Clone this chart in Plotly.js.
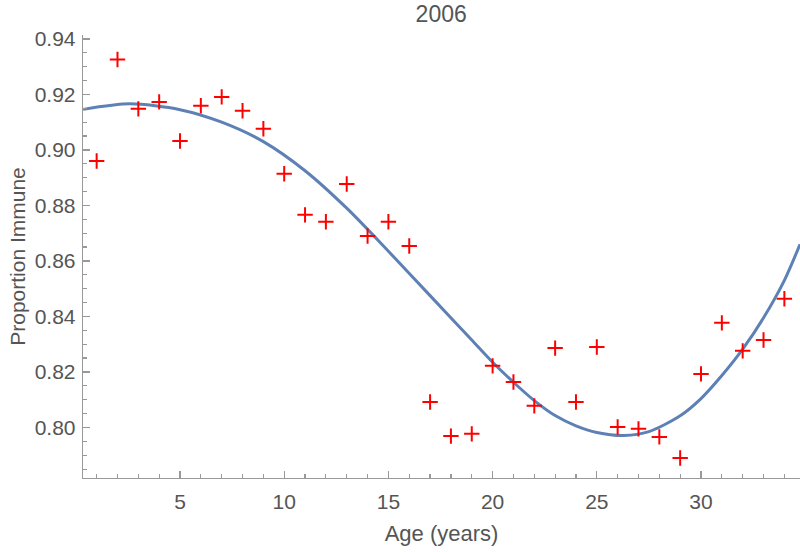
<!DOCTYPE html>
<html>
<head>
<meta charset="utf-8">
<script src="https://cdn.plot.ly/plotly-3.0.1.min.js"></script>
<style>html,body{margin:0;padding:0;background:#fff;}#chart{width:800px;height:552px;}</style>
</head>
<body>
<div id="chart"></div>
<script>
// Observed proportion immune by age (red crosses)
const ages = [1,2,3,4,5,6,7,8,9,10,11,12,13,14,15,16,17,18,19,20,21,22,23,24,25,26,27,28,29,30,31,32,33,34];
const immune = [0.8960,0.9326,0.9148,0.9173,0.9032,0.9159,0.9191,0.9141,0.9076,0.8914,
                0.8766,0.8741,0.8877,0.8690,0.8741,0.8654,0.8092,0.7969,0.7977,0.8222,
                0.8164,0.8078,0.8286,0.8092,0.8290,0.8002,0.7995,0.7966,0.7890,0.8193,
                0.8377,0.8276,0.8315,0.8464];
// Fitted curve
const fitAge = [0.35,2.6,5,7,9,11,13,15,17,19,20,21,22,23,24,25,26.3,27.5,29,30,31,32,33,34,34.75];
const fitVal = [0.9146,0.9166,0.9145,0.9100,0.9030,0.8925,0.8790,0.8635,0.8475,0.8315,0.8235,0.8163,0.8097,0.8043,0.8006,0.7982,0.7971,0.7985,0.8042,0.8104,0.8187,0.8282,0.8395,0.8530,0.8660];
const xTickVals = [5,10,15,20,25,30];
const yTickVals = [0.80,0.82,0.84,0.86,0.88,0.90,0.92,0.94];
const yTickText = ["0.80","0.82","0.84","0.86","0.88","0.90","0.92","0.94"];

const grey = '#999999';
const textGrey = '#555555';
const font = 'Liberation Sans, Arial, sans-serif';

const traces = [
  {x: fitAge, y: fitVal, type: 'scatter', mode: 'lines',
   line: {color: '#5E81B5', width: 3, shape: 'spline', smoothing: 0.8},
   hoverinfo: 'skip', showlegend: false},
  {x: ages, y: immune, type: 'scatter', mode: 'markers',
   marker: {symbol: 'cross-thin', size: 11, color: '#FF0000', line: {color: '#FF0000', width: 2}},
   showlegend: false}
];

const layout = {
  width: 800, height: 552,
  margin: {l: 83, r: 0, t: 35, b: 74},
  paper_bgcolor: '#ffffff', plot_bgcolor: '#ffffff',
  font: {family: font, size: 21, color: textGrey},
  title: {text: '2006', font: {family: font, size: 23, color: textGrey}, x: 0.5515, xanchor: 'center', y: 0.975, yanchor: 'middle'},
  xaxis: {
    range: [0.345, 34.75], showgrid: false, zeroline: false,
    showline: true, linecolor: grey, linewidth: 1.3,
    ticks: 'inside', ticklen: 7, tickwidth: 1.3, tickcolor: grey,
    tickvals: xTickVals, ticklabelstandoff: 4,
    tickfont: {family: font, size: 21, color: textGrey},
    minor: {dtick: 1, tick0: 0, ticks: 'inside', ticklen: 4, tickwidth: 1.2, tickcolor: grey, showgrid: false},
    title: {text: 'Age (years)', font: {family: font, size: 22, color: textGrey}, standoff: 14}
  },
  yaxis: {
    range: [0.7818, 0.9414], showgrid: false, zeroline: false,
    showline: true, linecolor: grey, linewidth: 1.3,
    ticks: 'inside', ticklen: 7, tickwidth: 1.3, tickcolor: grey,
    tickvals: yTickVals, ticktext: yTickText, ticklabelstandoff: 2,
    tickfont: {family: font, size: 21, color: textGrey},
    minor: {dtick: 0.005, tick0: 0.8, ticks: 'inside', ticklen: 4, tickwidth: 1.2, tickcolor: grey, showgrid: false},
    title: {text: 'Proportion Immune', font: {family: font, size: 21, color: textGrey}, standoff: 3}
  }
};

Plotly.newPlot('chart', traces, layout, {displayModeBar: false, staticPlot: true});
</script>
</body>
</html>
